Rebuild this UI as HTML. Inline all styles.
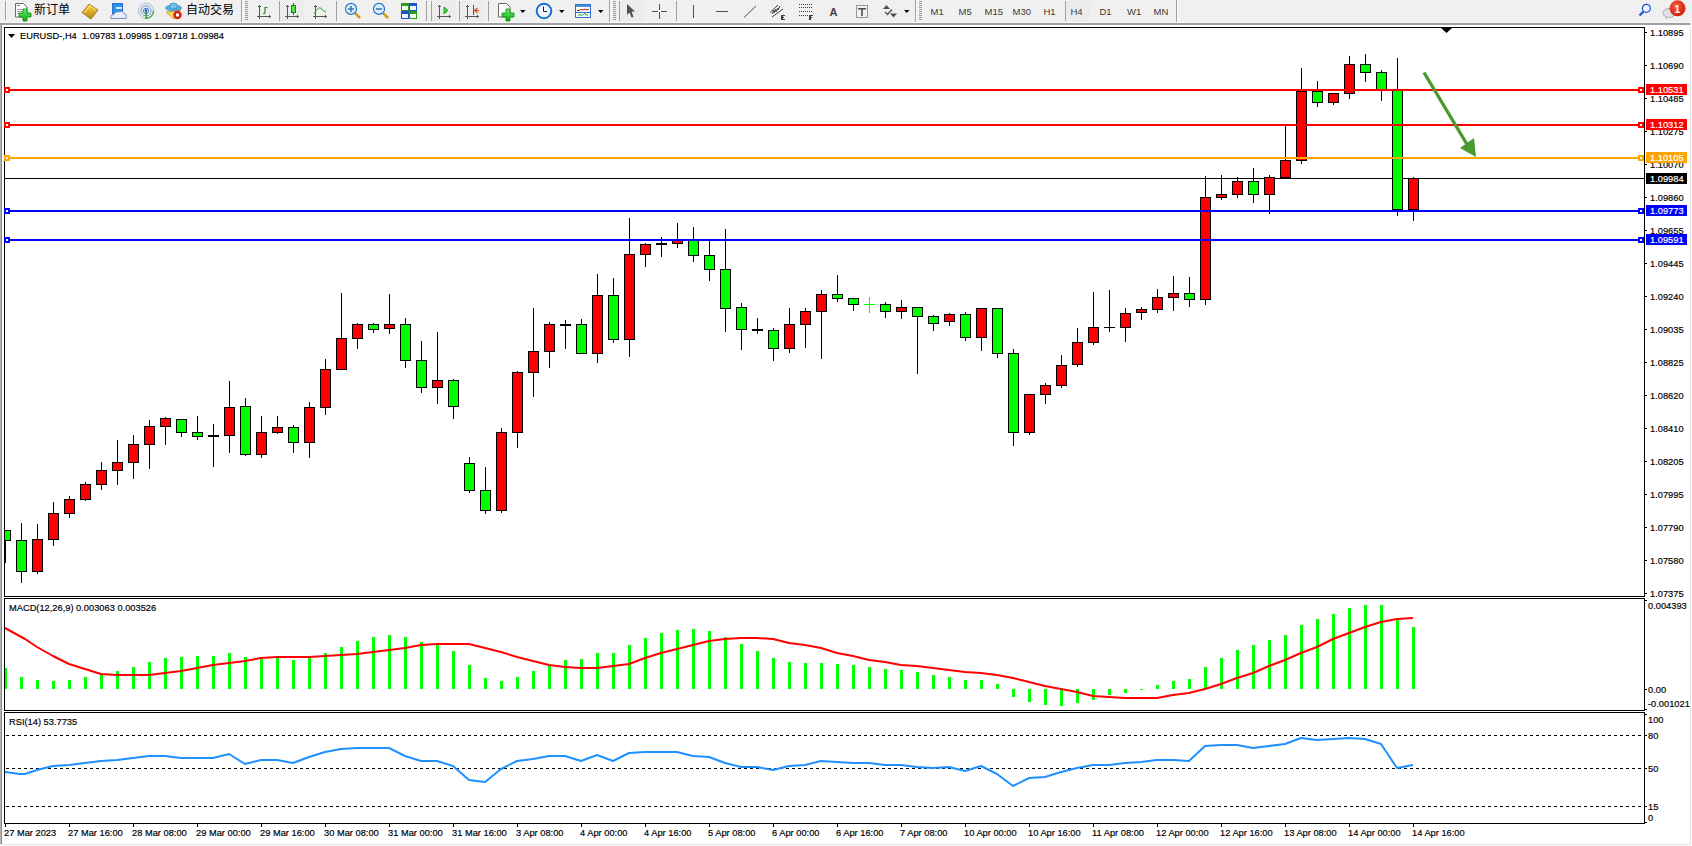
<!DOCTYPE html><html lang="zh-CN"><head><meta charset="utf-8"><style>html,body{margin:0;padding:0;width:1692px;height:846px;overflow:hidden;background:#fff;} svg{display:block} text{font-family:"Liberation Sans", sans-serif;}</style></head><body>
<svg width="1692" height="846" viewBox="0 0 1692 846">
<rect x="0" y="0" width="1692" height="23" fill="#f0f0f0"/>
<rect x="0" y="22" width="1692" height="1" fill="#f8f8f8"/>
<rect x="0" y="23" width="1690" height="2" fill="#a0a0a0"/>
<rect x="0" y="23" width="1" height="821" fill="#b4b4b4"/>
<rect x="1" y="23" width="1" height="821" fill="#8a8a8a"/>
<rect x="1690" y="23" width="1" height="822" fill="#e3e3e3"/>
<rect x="0" y="844" width="1691" height="1" fill="#e3e3e3"/>
<g id="toolbar">
<defs>
<pattern id="chk" width="2" height="2" patternUnits="userSpaceOnUse"><rect width="2" height="2" fill="#f4f4f4"/><rect width="1" height="1" fill="#e4e4e4"/><rect x="1" y="1" width="1" height="1" fill="#e4e4e4"/></pattern>
<linearGradient id="gplus" x1="0" y1="0" x2="0" y2="1"><stop offset="0" stop-color="#6cf36c"/><stop offset="1" stop-color="#0aa60a"/></linearGradient>
<linearGradient id="gold" x1="0" y1="0" x2="0" y2="1"><stop offset="0" stop-color="#f7d64a"/><stop offset="1" stop-color="#b8860b"/></linearGradient>
<radialGradient id="badge" cx="0.4" cy="0.35" r="0.7"><stop offset="0" stop-color="#f06040"/><stop offset="1" stop-color="#d01808"/></radialGradient>
</defs>
<g shape-rendering="crispEdges">
<!-- separators -->
<rect x="5" y="1" width="1" height="19" fill="#a0a0a0"/><rect x="6" y="1" width="1" height="19" fill="#fafafa"/>
<rect x="241" y="0" width="1" height="22" fill="#a0a0a0"/><rect x="242" y="0" width="1" height="22" fill="#fafafa"/>
<rect x="279" y="1" width="1" height="20" fill="#a0a0a0"/>
<rect x="336" y="1" width="1" height="20" fill="#a0a0a0"/>
<rect x="426" y="1" width="1" height="20" fill="#a0a0a0"/>
<rect x="431" y="1" width="1" height="20" fill="#a0a0a0"/>
<rect x="459" y="1" width="1" height="20" fill="#a0a0a0"/>
<rect x="488" y="1" width="1" height="20" fill="#a0a0a0"/>
<rect x="609" y="0" width="1" height="22" fill="#a0a0a0"/><rect x="610" y="0" width="1" height="22" fill="#fafafa"/>
<rect x="619" y="1" width="1" height="20" fill="#a0a0a0"/>
<rect x="676" y="1" width="1" height="20" fill="#a0a0a0"/>
<rect x="915" y="0" width="1" height="22" fill="#a0a0a0"/><rect x="916" y="0" width="1" height="22" fill="#fafafa"/>
<rect x="1065" y="1" width="1" height="20" fill="#a0a0a0"/>
<rect x="1176" y="0" width="1" height="22" fill="#a0a0a0"/><rect x="1177" y="0" width="1" height="22" fill="#fafafa"/>
<!-- pressed backgrounds -->
<rect x="280" y="1" width="24" height="20" fill="url(#chk)"/>
<rect x="432" y="1" width="24" height="20" fill="url(#chk)"/>
<rect x="460" y="1" width="24" height="20" fill="url(#chk)"/>
<rect x="620" y="1" width="24" height="20" fill="url(#chk)"/>
<rect x="1066" y="1" width="24" height="20" fill="url(#chk)"/>
</g>
<!-- grips -->
<g fill="#9a9a9a" shape-rendering="crispEdges">
<rect x="245" y="1" width="3" height="1"/><rect x="245" y="3" width="3" height="1"/><rect x="245" y="5" width="3" height="1"/><rect x="245" y="7" width="3" height="1"/><rect x="245" y="9" width="3" height="1"/><rect x="245" y="11" width="3" height="1"/><rect x="245" y="13" width="3" height="1"/><rect x="245" y="15" width="3" height="1"/><rect x="245" y="17" width="3" height="1"/><rect x="245" y="19" width="3" height="1"/>
<rect x="613" y="1" width="3" height="1"/><rect x="613" y="3" width="3" height="1"/><rect x="613" y="5" width="3" height="1"/><rect x="613" y="7" width="3" height="1"/><rect x="613" y="9" width="3" height="1"/><rect x="613" y="11" width="3" height="1"/><rect x="613" y="13" width="3" height="1"/><rect x="613" y="15" width="3" height="1"/><rect x="613" y="17" width="3" height="1"/><rect x="613" y="19" width="3" height="1"/>
<rect x="919" y="1" width="3" height="1"/><rect x="919" y="3" width="3" height="1"/><rect x="919" y="5" width="3" height="1"/><rect x="919" y="7" width="3" height="1"/><rect x="919" y="9" width="3" height="1"/><rect x="919" y="11" width="3" height="1"/><rect x="919" y="13" width="3" height="1"/><rect x="919" y="15" width="3" height="1"/><rect x="919" y="17" width="3" height="1"/><rect x="919" y="19" width="3" height="1"/>
</g>
<!-- new order icon -->
<path d="M15.5,3.5 h8 l3.5,3.5 v10 h-11.5 z" fill="#fff" stroke="#6a6a6a" stroke-width="1"/>
<rect x="17" y="5" width="3" height="1" fill="#888"/><rect x="17" y="9" width="6" height="1" fill="#999"/><rect x="17" y="11" width="6" height="1" fill="#999"/><rect x="17" y="13" width="4" height="1" fill="#999"/>
<path d="M23,9 h4 v4 h4 v4 h-4 v4 h-4 v-4 h-4 v-4 h4 z" fill="url(#gplus)" stroke="#0b8a0b" stroke-width="0.8"/>
<text x="34" y="14" font-size="12" fill="#000" lang="zh-CN">新订单</text>
<!-- yellow book -->
<path d="M82,12.5 L89,4 L98,10 L91,19 Z" fill="url(#gold)" stroke="#9a6a10" stroke-width="0.8"/>
<path d="M84,13 L90,6 L96,10" fill="none" stroke="#ffe680" stroke-width="1"/>
<!-- cloud icon -->
<rect x="112.5" y="3.5" width="10" height="10" fill="#2a90e8" stroke="#1060c0" stroke-width="0.8"/>
<rect x="116" y="7" width="6" height="2" fill="#cfe8ff"/>
<path d="M111,18.5 q-1.5,-3.5 3,-4 q1,-3.5 5,-2.5 q3,-2 5,1.5 q3,0 2,5 z" fill="#e8eef8" stroke="#6a86b0" stroke-width="0.9"/>
<!-- signal icon -->
<circle cx="146" cy="10.8" r="7.5" fill="none" stroke="#9fc0e0" stroke-width="1"/>
<circle cx="146" cy="10.8" r="5" fill="none" stroke="#6a9ad8" stroke-width="1"/>
<circle cx="146" cy="10.8" r="2.6" fill="none" stroke="#3a70d0" stroke-width="1"/>
<path d="M146,18.5 A7.7,7.7 0 0 0 153.5,11" fill="none" stroke="#5ab05a" stroke-width="1.6"/>
<rect x="145.5" y="10.5" width="1.2" height="8.5" fill="#109010"/>
<circle cx="146" cy="10.5" r="1.3" fill="#2050c0"/>
<!-- auto trading icon -->
<path d="M166,12 L181,10 L174,19 Z" fill="#f0d850" stroke="#c8a020" stroke-width="0.8"/>
<ellipse cx="173.5" cy="8" rx="8" ry="2.8" fill="#5ab0e0" stroke="#2a80b8" stroke-width="0.7"/>
<ellipse cx="173.5" cy="6" rx="4" ry="3" fill="#70c0ec" stroke="#2a80b8" stroke-width="0.7"/>
<circle cx="177.5" cy="15" r="4.2" fill="#d82010"/>
<rect x="176" y="13.5" width="3" height="3" fill="#fff"/>
<text x="186" y="14" font-size="12" fill="#000" lang="zh-CN">自动交易</text>
<!-- bar chart icon -->
<g fill="#555" shape-rendering="crispEdges">
<rect x="259" y="5" width="1" height="14"/><rect x="257" y="16" width="14" height="1"/>
<rect x="258" y="6" width="3" height="1"/><rect x="269" y="15" width="1" height="3"/>
</g>
<path d="M263,13.5 h2 M265,13.5 V7.5 h2.5" fill="none" stroke="#1a9a1a" stroke-width="1.2"/>
<!-- candle icon -->
<g fill="#555" shape-rendering="crispEdges">
<rect x="287" y="5" width="1" height="14"/><rect x="285" y="16" width="14" height="1"/>
<rect x="286" y="6" width="3" height="1"/><rect x="297" y="15" width="1" height="3"/>
</g>
<rect x="293" y="3" width="1" height="12" fill="#0a8a0a"/>
<rect x="291.5" y="5.5" width="4" height="7" fill="#50e050" stroke="#0a8a0a" stroke-width="1"/>
<!-- line chart icon -->
<g fill="#555" shape-rendering="crispEdges">
<rect x="315" y="5" width="1" height="14"/><rect x="313" y="16" width="14" height="1"/>
<rect x="314" y="6" width="3" height="1"/><rect x="325" y="15" width="1" height="3"/>
</g>
<path d="M314,13.5 Q319,6 321,8.3 T326,12.2" fill="none" stroke="#2a9a2a" stroke-width="1"/>
<!-- zoom in/out -->
<line x1="355" y1="13" x2="360" y2="18" stroke="#c8a020" stroke-width="2.5"/>
<circle cx="351" cy="8.9" r="5.5" fill="#d8f0fc" stroke="#2a70c8" stroke-width="1.2"/>
<rect x="348" y="8.2" width="6" height="1.6" fill="#3a80b0"/><rect x="350.2" y="6" width="1.6" height="6" fill="#3a80b0"/>
<line x1="383" y1="13" x2="388" y2="18" stroke="#c8a020" stroke-width="2.5"/>
<circle cx="379" cy="8.9" r="5.5" fill="#d8f0fc" stroke="#2a70c8" stroke-width="1.2"/>
<rect x="376" y="8.2" width="6" height="1.6" fill="#3a80b0"/>
<!-- tile windows -->
<g shape-rendering="crispEdges">
<rect x="401" y="3" width="8" height="8" fill="#2a9a1a"/><rect x="409" y="3" width="8" height="8" fill="#2050c8"/>
<rect x="401" y="11" width="8" height="8" fill="#2050c8"/><rect x="409" y="11" width="8" height="8" fill="#2a9a1a"/>
<rect x="402" y="6" width="6" height="4" fill="#f0f8f0"/><rect x="410" y="6" width="6" height="4" fill="#f0f4ff"/>
<rect x="402" y="14" width="6" height="4" fill="#f0f4ff"/><rect x="410" y="14" width="6" height="4" fill="#f0f8f0"/>
</g>
<!-- scroll icon -->
<g fill="#555" shape-rendering="crispEdges">
<rect x="439" y="5" width="1" height="14"/><rect x="437" y="16" width="14" height="1"/>
<rect x="438" y="6" width="3" height="1"/><rect x="449" y="15" width="1" height="3"/>
</g>
<path d="M444,7 L448,10.5 L444,14 Z" fill="#40d040" stroke="#0a9a0a" stroke-width="0.8"/>
<!-- shift icon -->
<g fill="#555" shape-rendering="crispEdges">
<rect x="467" y="5" width="1" height="14"/><rect x="465" y="16" width="14" height="1"/>
<rect x="466" y="6" width="3" height="1"/><rect x="477" y="15" width="1" height="3"/>
</g>
<rect x="473" y="5" width="1" height="10" fill="#1a6aa0"/>
<path d="M474,10.5 h5 M474.5,10.5 l3,-2.5 M474.5,10.5 l3,2.5" fill="none" stroke="#e05010" stroke-width="1.2"/>
<!-- indicators icon -->
<path d="M498.5,3.5 h8 l3.5,3.5 v10 h-11.5 z" fill="#fff" stroke="#6a6a6a" stroke-width="1"/>
<path d="M502,9 h4 v4 h4 v4 h-4 v4 h-4 v-4 h-4 v-4 h4 z" transform="translate(4,0)" fill="url(#gplus)" stroke="#0b8a0b" stroke-width="0.8"/>
<path d="M520,10 h5.5 l-2.75,3 z" fill="#000"/>
<!-- clock -->
<circle cx="544" cy="11" r="7.3" fill="#f4f8fc" stroke="#1a70d8" stroke-width="2"/>
<path d="M543.5,6.5 V11.5 H547" fill="none" stroke="#222" stroke-width="1"/>
<path d="M559,10 h5.5 l-2.75,3 z" fill="#000"/>
<!-- template -->
<rect x="575.5" y="4.5" width="15" height="13" fill="#fff" stroke="#2a70c8" stroke-width="1"/>
<rect x="576" y="5" width="14" height="2" fill="#4a90d8"/>
<rect x="576" y="12" width="14" height="1" fill="#2a70c8"/>
<path d="M577,10.5 l2,0 l2,-1 l2,0.5 l2,-1 l2,1 l2,-1" fill="none" stroke="#b02010" stroke-width="1"/>
<path d="M578,15.5 l2,-1 l2,1 l2,-2 l2,1 l2,1" fill="none" stroke="#20a020" stroke-width="1"/>
<path d="M598,10 h5.5 l-2.75,3 z" fill="#000"/>
<!-- cursor -->
<path d="M627,4 L635,11.5 L631.5,11.5 L633.5,17 L631.5,17.5 L629.5,12.5 L627,15 Z" fill="#505050"/>
<!-- crosshair -->
<g fill="#505050" shape-rendering="crispEdges">
<rect x="659" y="4" width="1" height="6"/><rect x="659" y="12" width="1" height="7"/>
<rect x="652" y="11" width="6" height="1"/><rect x="661" y="11" width="6" height="1"/>
<rect x="693" y="5" width="1" height="13"/>
<rect x="716" y="11" width="12" height="1"/>
</g>
<line x1="744" y1="17.5" x2="756" y2="6" stroke="#505050" stroke-width="1"/>
<!-- channel -->
<g stroke="#404040" stroke-width="1" fill="none">
<line x1="770" y1="12.5" x2="778" y2="5"/><line x1="772" y1="17" x2="783" y2="9"/>
<path d="M772,14 l2,-4 l0,3 l2,-4 l0,3 l2,-4 l0,2 l2,-4"/>
</g>
<g fill="#404040" shape-rendering="crispEdges"><rect x="781" y="15" width="2" height="5"/><rect x="781" y="15" width="4" height="1"/><rect x="781" y="17" width="3" height="1"/><rect x="781" y="19" width="4" height="1"/></g>
<!-- fibo -->
<g stroke="#404040" stroke-width="1" stroke-dasharray="1,1" shape-rendering="crispEdges">
<line x1="799" y1="4.5" x2="813" y2="4.5"/><line x1="799" y1="7.5" x2="813" y2="7.5"/><line x1="799" y1="11.5" x2="813" y2="11.5"/><line x1="799" y1="15.5" x2="808" y2="15.5"/>
</g>
<g fill="#404040" shape-rendering="crispEdges"><rect x="809" y="15" width="2" height="5"/><rect x="809" y="15" width="4" height="1"/><rect x="809" y="17" width="3" height="1"/></g>
<!-- A -->
<text x="829.5" y="16" font-size="11" font-weight="bold" fill="#404040">A</text>
<!-- T label -->
<rect x="856.5" y="5.5" width="11" height="12" fill="none" stroke="#404040" stroke-width="1" stroke-dasharray="1,1"/>
<rect x="858" y="8" width="8" height="1.5" fill="#505050"/><rect x="861.2" y="8" width="1.6" height="8" fill="#505050"/>
<!-- arrows icon -->
<path d="M883,9 L886.5,5 L890,9 Z" fill="#505050"/>
<path d="M885,12 L887.5,14.5 L892,9.5" fill="none" stroke="#505050" stroke-width="1.3"/>
<path d="M890,13.5 L897,13.5 L893.5,17.5 Z" fill="#505050"/>
<path d="M904,10 h5.5 l-2.75,3 z" fill="#000"/>
<!-- timeframes -->
<g font-size="9.5" fill="#3a3a3a">
<text x="930.5" y="15">M1</text>
<text x="958.5" y="15">M5</text>
<text x="984.5" y="15">M15</text>
<text x="1012.5" y="15">M30</text>
<text x="1043.5" y="15">H1</text>
<text x="1070.5" y="15">H4</text>
<text x="1099.5" y="15">D1</text>
<text x="1127" y="15">W1</text>
<text x="1153.5" y="15">MN</text>
</g>
<!-- search -->
<line x1="1639.5" y1="15.5" x2="1643.5" y2="11.5" stroke="#2050d0" stroke-width="2.2"/>
<circle cx="1646.4" cy="8.3" r="4" fill="#f4f6ff" stroke="#2050d0" stroke-width="1.2"/>
<!-- chat + badge -->
<ellipse cx="1669" cy="13" rx="6" ry="4.5" fill="#e0e0e8" stroke="#a0a0a0" stroke-width="0.8"/>
<path d="M1666,17 l-0.5,2.5 l3,-2" fill="#c0c0c8"/>
<circle cx="1677.5" cy="8.3" r="8" fill="url(#badge)"/>
<text x="1674.5" y="13" font-size="10" font-weight="bold" fill="#fff" font-family="Liberation Serif">1</text>
</g>

<g shape-rendering="crispEdges">
<rect x="4.5" y="27.5" width="1640" height="569" fill="none" stroke="#000" stroke-width="1"/>
<rect x="4.5" y="598.5" width="1640" height="112" fill="none" stroke="#000" stroke-width="1"/>
<rect x="4.5" y="712.5" width="1640" height="111" fill="none" stroke="#000" stroke-width="1"/>
</g>
<defs><clipPath id="cm"><rect x="5" y="28" width="1639" height="568"/></clipPath><clipPath id="cmacd"><rect x="5" y="599" width="1639" height="111"/></clipPath><clipPath id="crsi"><rect x="5" y="713" width="1639" height="110"/></clipPath></defs>
<g clip-path="url(#cm)" shape-rendering="crispEdges">
<rect x="5" y="178" width="1639" height="1" fill="#000"/>
<rect x="5" y="530" width="1" height="33" fill="#000"/>
<rect x="0.5" y="530.5" width="10" height="10" fill="#00ff00" stroke="#000" stroke-width="1"/>
<rect x="21" y="523" width="1" height="60" fill="#000"/>
<rect x="16.5" y="540.5" width="10" height="31" fill="#00ff00" stroke="#000" stroke-width="1"/>
<rect x="37" y="524" width="1" height="50" fill="#000"/>
<rect x="32.5" y="539.5" width="10" height="32" fill="#ff0000" stroke="#000" stroke-width="1"/>
<rect x="53" y="502" width="1" height="44" fill="#000"/>
<rect x="48.5" y="513.5" width="10" height="26" fill="#ff0000" stroke="#000" stroke-width="1"/>
<rect x="69" y="496" width="1" height="22" fill="#000"/>
<rect x="64.5" y="499.5" width="10" height="14" fill="#ff0000" stroke="#000" stroke-width="1"/>
<rect x="85" y="482" width="1" height="19" fill="#000"/>
<rect x="80.5" y="484.5" width="10" height="15" fill="#ff0000" stroke="#000" stroke-width="1"/>
<rect x="101" y="462" width="1" height="28" fill="#000"/>
<rect x="96.5" y="470.5" width="10" height="14" fill="#ff0000" stroke="#000" stroke-width="1"/>
<rect x="117" y="440" width="1" height="45" fill="#000"/>
<rect x="112.5" y="462.5" width="10" height="8" fill="#ff0000" stroke="#000" stroke-width="1"/>
<rect x="133" y="435" width="1" height="44" fill="#000"/>
<rect x="128.5" y="444.5" width="10" height="18" fill="#ff0000" stroke="#000" stroke-width="1"/>
<rect x="149" y="420" width="1" height="49" fill="#000"/>
<rect x="144.5" y="426.5" width="10" height="18" fill="#ff0000" stroke="#000" stroke-width="1"/>
<rect x="165" y="417" width="1" height="28" fill="#000"/>
<rect x="160.5" y="418.5" width="10" height="8" fill="#ff0000" stroke="#000" stroke-width="1"/>
<rect x="181" y="419" width="1" height="18" fill="#000"/>
<rect x="176.5" y="419.5" width="10" height="13" fill="#00ff00" stroke="#000" stroke-width="1"/>
<rect x="197" y="416" width="1" height="24" fill="#000"/>
<rect x="192.5" y="432.5" width="10" height="4" fill="#00ff00" stroke="#000" stroke-width="1"/>
<rect x="213" y="424" width="1" height="43" fill="#000"/>
<rect x="208" y="435" width="11" height="2" fill="#000"/>
<rect x="229" y="381" width="1" height="72" fill="#000"/>
<rect x="224.5" y="407.5" width="10" height="28" fill="#ff0000" stroke="#000" stroke-width="1"/>
<rect x="245" y="398" width="1" height="58" fill="#000"/>
<rect x="240.5" y="406.5" width="10" height="48" fill="#00ff00" stroke="#000" stroke-width="1"/>
<rect x="261" y="416" width="1" height="42" fill="#000"/>
<rect x="256.5" y="432.5" width="10" height="22" fill="#ff0000" stroke="#000" stroke-width="1"/>
<rect x="277" y="416" width="1" height="18" fill="#000"/>
<rect x="272.5" y="427.5" width="10" height="5" fill="#ff0000" stroke="#000" stroke-width="1"/>
<rect x="293" y="425" width="1" height="28" fill="#000"/>
<rect x="288.5" y="427.5" width="10" height="15" fill="#00ff00" stroke="#000" stroke-width="1"/>
<rect x="309" y="402" width="1" height="56" fill="#000"/>
<rect x="304.5" y="407.5" width="10" height="35" fill="#ff0000" stroke="#000" stroke-width="1"/>
<rect x="325" y="359" width="1" height="56" fill="#000"/>
<rect x="320.5" y="369.5" width="10" height="38" fill="#ff0000" stroke="#000" stroke-width="1"/>
<rect x="341" y="293" width="1" height="77" fill="#000"/>
<rect x="336.5" y="338.5" width="10" height="31" fill="#ff0000" stroke="#000" stroke-width="1"/>
<rect x="357" y="323" width="1" height="26" fill="#000"/>
<rect x="352.5" y="324.5" width="10" height="14" fill="#ff0000" stroke="#000" stroke-width="1"/>
<rect x="373" y="323" width="1" height="10" fill="#000"/>
<rect x="368.5" y="324.5" width="10" height="5" fill="#00ff00" stroke="#000" stroke-width="1"/>
<rect x="389" y="294" width="1" height="40" fill="#000"/>
<rect x="384.5" y="324.5" width="10" height="4" fill="#ff0000" stroke="#000" stroke-width="1"/>
<rect x="405" y="318" width="1" height="50" fill="#000"/>
<rect x="400.5" y="324.5" width="10" height="36" fill="#00ff00" stroke="#000" stroke-width="1"/>
<rect x="421" y="341" width="1" height="52" fill="#000"/>
<rect x="416.5" y="360.5" width="10" height="27" fill="#00ff00" stroke="#000" stroke-width="1"/>
<rect x="437" y="332" width="1" height="72" fill="#000"/>
<rect x="432.5" y="380.5" width="10" height="7" fill="#ff0000" stroke="#000" stroke-width="1"/>
<rect x="453" y="379" width="1" height="40" fill="#000"/>
<rect x="448.5" y="380.5" width="10" height="26" fill="#00ff00" stroke="#000" stroke-width="1"/>
<rect x="469" y="457" width="1" height="36" fill="#000"/>
<rect x="464.5" y="463.5" width="10" height="27" fill="#00ff00" stroke="#000" stroke-width="1"/>
<rect x="485" y="467" width="1" height="47" fill="#000"/>
<rect x="480.5" y="490.5" width="10" height="20" fill="#00ff00" stroke="#000" stroke-width="1"/>
<rect x="501" y="428" width="1" height="85" fill="#000"/>
<rect x="496.5" y="432.5" width="10" height="78" fill="#ff0000" stroke="#000" stroke-width="1"/>
<rect x="517" y="371" width="1" height="77" fill="#000"/>
<rect x="512.5" y="372.5" width="10" height="60" fill="#ff0000" stroke="#000" stroke-width="1"/>
<rect x="533" y="308" width="1" height="89" fill="#000"/>
<rect x="528.5" y="351.5" width="10" height="21" fill="#ff0000" stroke="#000" stroke-width="1"/>
<rect x="549" y="322" width="1" height="46" fill="#000"/>
<rect x="544.5" y="324.5" width="10" height="27" fill="#ff0000" stroke="#000" stroke-width="1"/>
<rect x="565" y="320" width="1" height="29" fill="#000"/>
<rect x="560" y="324" width="11" height="2" fill="#000"/>
<rect x="581" y="319" width="1" height="35" fill="#000"/>
<rect x="576.5" y="324.5" width="10" height="29" fill="#00ff00" stroke="#000" stroke-width="1"/>
<rect x="597" y="274" width="1" height="89" fill="#000"/>
<rect x="592.5" y="295.5" width="10" height="58" fill="#ff0000" stroke="#000" stroke-width="1"/>
<rect x="613" y="278" width="1" height="65" fill="#000"/>
<rect x="608.5" y="295.5" width="10" height="44" fill="#00ff00" stroke="#000" stroke-width="1"/>
<rect x="629" y="218" width="1" height="139" fill="#000"/>
<rect x="624.5" y="254.5" width="10" height="85" fill="#ff0000" stroke="#000" stroke-width="1"/>
<rect x="645" y="243" width="1" height="24" fill="#000"/>
<rect x="640.5" y="244.5" width="10" height="10" fill="#ff0000" stroke="#000" stroke-width="1"/>
<rect x="661" y="237" width="1" height="20" fill="#000"/>
<rect x="656" y="243" width="11" height="2" fill="#000"/>
<rect x="677" y="223" width="1" height="25" fill="#000"/>
<rect x="672.5" y="240.5" width="10" height="3" fill="#ff0000" stroke="#000" stroke-width="1"/>
<rect x="693" y="227" width="1" height="35" fill="#000"/>
<rect x="688.5" y="240.5" width="10" height="15" fill="#00ff00" stroke="#000" stroke-width="1"/>
<rect x="709" y="240" width="1" height="41" fill="#000"/>
<rect x="704.5" y="255.5" width="10" height="14" fill="#00ff00" stroke="#000" stroke-width="1"/>
<rect x="725" y="229" width="1" height="103" fill="#000"/>
<rect x="720.5" y="269.5" width="10" height="39" fill="#00ff00" stroke="#000" stroke-width="1"/>
<rect x="741" y="303" width="1" height="47" fill="#000"/>
<rect x="736.5" y="307.5" width="10" height="22" fill="#00ff00" stroke="#000" stroke-width="1"/>
<rect x="757" y="318" width="1" height="16" fill="#000"/>
<rect x="752" y="329" width="11" height="2" fill="#000"/>
<rect x="773" y="328" width="1" height="33" fill="#000"/>
<rect x="768.5" y="330.5" width="10" height="18" fill="#00ff00" stroke="#000" stroke-width="1"/>
<rect x="789" y="308" width="1" height="45" fill="#000"/>
<rect x="784.5" y="324.5" width="10" height="24" fill="#ff0000" stroke="#000" stroke-width="1"/>
<rect x="805" y="308" width="1" height="40" fill="#000"/>
<rect x="800.5" y="311.5" width="10" height="13" fill="#ff0000" stroke="#000" stroke-width="1"/>
<rect x="821" y="290" width="1" height="69" fill="#000"/>
<rect x="816.5" y="294.5" width="10" height="17" fill="#ff0000" stroke="#000" stroke-width="1"/>
<rect x="837" y="275" width="1" height="27" fill="#000"/>
<rect x="832.5" y="294.5" width="10" height="4" fill="#00ff00" stroke="#000" stroke-width="1"/>
<rect x="853" y="298" width="1" height="13" fill="#000"/>
<rect x="848.5" y="298.5" width="10" height="6" fill="#00ff00" stroke="#000" stroke-width="1"/>
<rect x="869" y="297" width="1" height="16" fill="#00ff00"/>
<rect x="864" y="304" width="11" height="1" fill="#00ff00"/>
<rect x="885" y="302" width="1" height="16" fill="#000"/>
<rect x="880.5" y="304.5" width="10" height="7" fill="#00ff00" stroke="#000" stroke-width="1"/>
<rect x="901" y="300" width="1" height="19" fill="#000"/>
<rect x="896.5" y="307.5" width="10" height="4" fill="#ff0000" stroke="#000" stroke-width="1"/>
<rect x="917" y="307" width="1" height="67" fill="#000"/>
<rect x="912.5" y="307.5" width="10" height="9" fill="#00ff00" stroke="#000" stroke-width="1"/>
<rect x="933" y="315" width="1" height="16" fill="#000"/>
<rect x="928.5" y="316.5" width="10" height="7" fill="#00ff00" stroke="#000" stroke-width="1"/>
<rect x="949" y="313" width="1" height="13" fill="#000"/>
<rect x="944.5" y="314.5" width="10" height="7" fill="#ff0000" stroke="#000" stroke-width="1"/>
<rect x="965" y="312" width="1" height="29" fill="#000"/>
<rect x="960.5" y="314.5" width="10" height="23" fill="#00ff00" stroke="#000" stroke-width="1"/>
<rect x="981" y="308" width="1" height="43" fill="#000"/>
<rect x="976.5" y="308.5" width="10" height="29" fill="#ff0000" stroke="#000" stroke-width="1"/>
<rect x="997" y="308" width="1" height="50" fill="#000"/>
<rect x="992.5" y="308.5" width="10" height="45" fill="#00ff00" stroke="#000" stroke-width="1"/>
<rect x="1013" y="349" width="1" height="97" fill="#000"/>
<rect x="1008.5" y="353.5" width="10" height="79" fill="#00ff00" stroke="#000" stroke-width="1"/>
<rect x="1029" y="394" width="1" height="41" fill="#000"/>
<rect x="1024.5" y="394.5" width="10" height="38" fill="#ff0000" stroke="#000" stroke-width="1"/>
<rect x="1045" y="383" width="1" height="21" fill="#000"/>
<rect x="1040.5" y="385.5" width="10" height="9" fill="#ff0000" stroke="#000" stroke-width="1"/>
<rect x="1061" y="355" width="1" height="33" fill="#000"/>
<rect x="1056.5" y="365.5" width="10" height="20" fill="#ff0000" stroke="#000" stroke-width="1"/>
<rect x="1077" y="328" width="1" height="39" fill="#000"/>
<rect x="1072.5" y="342.5" width="10" height="22" fill="#ff0000" stroke="#000" stroke-width="1"/>
<rect x="1093" y="292" width="1" height="53" fill="#000"/>
<rect x="1088.5" y="327.5" width="10" height="15" fill="#ff0000" stroke="#000" stroke-width="1"/>
<rect x="1109" y="290" width="1" height="42" fill="#000"/>
<rect x="1104" y="327" width="11" height="1" fill="#000"/>
<rect x="1125" y="308" width="1" height="34" fill="#000"/>
<rect x="1120.5" y="313.5" width="10" height="14" fill="#ff0000" stroke="#000" stroke-width="1"/>
<rect x="1141" y="307" width="1" height="13" fill="#000"/>
<rect x="1136.5" y="309.5" width="10" height="3" fill="#ff0000" stroke="#000" stroke-width="1"/>
<rect x="1157" y="289" width="1" height="24" fill="#000"/>
<rect x="1152.5" y="297.5" width="10" height="12" fill="#ff0000" stroke="#000" stroke-width="1"/>
<rect x="1173" y="276" width="1" height="35" fill="#000"/>
<rect x="1168.5" y="293.5" width="10" height="4" fill="#ff0000" stroke="#000" stroke-width="1"/>
<rect x="1189" y="277" width="1" height="30" fill="#000"/>
<rect x="1184.5" y="293.5" width="10" height="6" fill="#00ff00" stroke="#000" stroke-width="1"/>
<rect x="1205" y="176" width="1" height="129" fill="#000"/>
<rect x="1200.5" y="197.5" width="10" height="102" fill="#ff0000" stroke="#000" stroke-width="1"/>
<rect x="1221" y="175" width="1" height="25" fill="#000"/>
<rect x="1216.5" y="194.5" width="10" height="3" fill="#ff0000" stroke="#000" stroke-width="1"/>
<rect x="1237" y="177" width="1" height="21" fill="#000"/>
<rect x="1232.5" y="181.5" width="10" height="13" fill="#ff0000" stroke="#000" stroke-width="1"/>
<rect x="1253" y="168" width="1" height="35" fill="#000"/>
<rect x="1248.5" y="181.5" width="10" height="13" fill="#00ff00" stroke="#000" stroke-width="1"/>
<rect x="1269" y="175" width="1" height="39" fill="#000"/>
<rect x="1264.5" y="177.5" width="10" height="17" fill="#ff0000" stroke="#000" stroke-width="1"/>
<rect x="1285" y="125" width="1" height="53" fill="#000"/>
<rect x="1280.5" y="160.5" width="10" height="17" fill="#ff0000" stroke="#000" stroke-width="1"/>
<rect x="1301" y="68" width="1" height="96" fill="#000"/>
<rect x="1296.5" y="91.5" width="10" height="69" fill="#ff0000" stroke="#000" stroke-width="1"/>
<rect x="1317" y="81" width="1" height="26" fill="#000"/>
<rect x="1312.5" y="91.5" width="10" height="11" fill="#00ff00" stroke="#000" stroke-width="1"/>
<rect x="1333" y="93" width="1" height="12" fill="#000"/>
<rect x="1328.5" y="93.5" width="10" height="9" fill="#ff0000" stroke="#000" stroke-width="1"/>
<rect x="1349" y="56" width="1" height="43" fill="#000"/>
<rect x="1344.5" y="64.5" width="10" height="29" fill="#ff0000" stroke="#000" stroke-width="1"/>
<rect x="1365" y="54" width="1" height="28" fill="#000"/>
<rect x="1360.5" y="64.5" width="10" height="8" fill="#00ff00" stroke="#000" stroke-width="1"/>
<rect x="1381" y="70" width="1" height="31" fill="#000"/>
<rect x="1376.5" y="72.5" width="10" height="17" fill="#00ff00" stroke="#000" stroke-width="1"/>
<rect x="1397" y="58" width="1" height="158" fill="#000"/>
<rect x="1392.5" y="90.5" width="10" height="119" fill="#00ff00" stroke="#000" stroke-width="1"/>
<rect x="1413" y="177" width="1" height="44" fill="#000"/>
<rect x="1408.5" y="178.5" width="10" height="31" fill="#ff0000" stroke="#000" stroke-width="1"/>
<rect x="5" y="89" width="1639" height="2" fill="#ff0000"/>
<rect x="5" y="124" width="1639" height="2" fill="#ff0000"/>
<rect x="5" y="157" width="1639" height="2" fill="#ffa500"/>
<rect x="5" y="210" width="1639" height="2" fill="#0000ff"/>
<rect x="5" y="239" width="1639" height="2" fill="#0000ff"/>
</g>
<g shape-rendering="crispEdges">
<rect x="4" y="87" width="6" height="6" fill="#ff0000"/>
<rect x="6" y="89" width="2" height="2" fill="#fff"/>
<rect x="1638" y="87" width="6" height="6" fill="#ff0000"/>
<rect x="1640" y="89" width="2" height="2" fill="#fff"/>
<rect x="4" y="122" width="6" height="6" fill="#ff0000"/>
<rect x="6" y="124" width="2" height="2" fill="#fff"/>
<rect x="1638" y="122" width="6" height="6" fill="#ff0000"/>
<rect x="1640" y="124" width="2" height="2" fill="#fff"/>
<rect x="4" y="155" width="6" height="6" fill="#ffa500"/>
<rect x="6" y="157" width="2" height="2" fill="#fff"/>
<rect x="1638" y="155" width="6" height="6" fill="#ffa500"/>
<rect x="1640" y="157" width="2" height="2" fill="#fff"/>
<rect x="4" y="208" width="6" height="6" fill="#0000ff"/>
<rect x="6" y="210" width="2" height="2" fill="#fff"/>
<rect x="1638" y="208" width="6" height="6" fill="#0000ff"/>
<rect x="1640" y="210" width="2" height="2" fill="#fff"/>
<rect x="4" y="237" width="6" height="6" fill="#0000ff"/>
<rect x="6" y="239" width="2" height="2" fill="#fff"/>
<rect x="1638" y="237" width="6" height="6" fill="#0000ff"/>
<rect x="1640" y="239" width="2" height="2" fill="#fff"/>
</g>
<g fill="#4a9a2e" stroke="none">
<line x1="1424" y1="72.5" x2="1468" y2="146" stroke="#4a9a2e" stroke-width="3.4"/>
<polygon points="1476,157 1460,148 1474,138"/>
</g>
<polygon points="1441,28 1452,28 1446.5,33" fill="#000"/>
<text transform="translate(20,39) scale(0.93,0.96)" x="0" y="0" font-size="10" fill="#000" stroke="#000" stroke-width="0.18" style="white-space:pre" >EURUSD-,H4  1.09783 1.09985 1.09718 1.09984</text>
<polygon points="8,34 15,34 11.5,38" fill="#000"/>
<g shape-rendering="crispEdges">
<rect x="1645" y="32" width="2" height="1" fill="#000"/>
<rect x="1645" y="65" width="2" height="1" fill="#000"/>
<rect x="1645" y="98" width="2" height="1" fill="#000"/>
<rect x="1645" y="131" width="2" height="1" fill="#000"/>
<rect x="1645" y="164" width="2" height="1" fill="#000"/>
<rect x="1645" y="197" width="2" height="1" fill="#000"/>
<rect x="1645" y="230" width="2" height="1" fill="#000"/>
<rect x="1645" y="263" width="2" height="1" fill="#000"/>
<rect x="1645" y="296" width="2" height="1" fill="#000"/>
<rect x="1645" y="329" width="2" height="1" fill="#000"/>
<rect x="1645" y="362" width="2" height="1" fill="#000"/>
<rect x="1645" y="395" width="2" height="1" fill="#000"/>
<rect x="1645" y="428" width="2" height="1" fill="#000"/>
<rect x="1645" y="461" width="2" height="1" fill="#000"/>
<rect x="1645" y="494" width="2" height="1" fill="#000"/>
<rect x="1645" y="527" width="2" height="1" fill="#000"/>
<rect x="1645" y="560" width="2" height="1" fill="#000"/>
<rect x="1645" y="593" width="2" height="1" fill="#000"/>
</g>
<text transform="translate(1650,36) scale(0.93,0.96)" x="0" y="0" font-size="10" fill="#000" stroke="#000" stroke-width="0.18" style="white-space:pre" >1.10895</text>
<text transform="translate(1650,69) scale(0.93,0.96)" x="0" y="0" font-size="10" fill="#000" stroke="#000" stroke-width="0.18" style="white-space:pre" >1.10690</text>
<text transform="translate(1650,102) scale(0.93,0.96)" x="0" y="0" font-size="10" fill="#000" stroke="#000" stroke-width="0.18" style="white-space:pre" >1.10485</text>
<text transform="translate(1650,135) scale(0.93,0.96)" x="0" y="0" font-size="10" fill="#000" stroke="#000" stroke-width="0.18" style="white-space:pre" >1.10275</text>
<text transform="translate(1650,168) scale(0.93,0.96)" x="0" y="0" font-size="10" fill="#000" stroke="#000" stroke-width="0.18" style="white-space:pre" >1.10070</text>
<text transform="translate(1650,201) scale(0.93,0.96)" x="0" y="0" font-size="10" fill="#000" stroke="#000" stroke-width="0.18" style="white-space:pre" >1.09860</text>
<text transform="translate(1650,234) scale(0.93,0.96)" x="0" y="0" font-size="10" fill="#000" stroke="#000" stroke-width="0.18" style="white-space:pre" >1.09655</text>
<text transform="translate(1650,267) scale(0.93,0.96)" x="0" y="0" font-size="10" fill="#000" stroke="#000" stroke-width="0.18" style="white-space:pre" >1.09445</text>
<text transform="translate(1650,300) scale(0.93,0.96)" x="0" y="0" font-size="10" fill="#000" stroke="#000" stroke-width="0.18" style="white-space:pre" >1.09240</text>
<text transform="translate(1650,333) scale(0.93,0.96)" x="0" y="0" font-size="10" fill="#000" stroke="#000" stroke-width="0.18" style="white-space:pre" >1.09035</text>
<text transform="translate(1650,366) scale(0.93,0.96)" x="0" y="0" font-size="10" fill="#000" stroke="#000" stroke-width="0.18" style="white-space:pre" >1.08825</text>
<text transform="translate(1650,399) scale(0.93,0.96)" x="0" y="0" font-size="10" fill="#000" stroke="#000" stroke-width="0.18" style="white-space:pre" >1.08620</text>
<text transform="translate(1650,432) scale(0.93,0.96)" x="0" y="0" font-size="10" fill="#000" stroke="#000" stroke-width="0.18" style="white-space:pre" >1.08410</text>
<text transform="translate(1650,465) scale(0.93,0.96)" x="0" y="0" font-size="10" fill="#000" stroke="#000" stroke-width="0.18" style="white-space:pre" >1.08205</text>
<text transform="translate(1650,498) scale(0.93,0.96)" x="0" y="0" font-size="10" fill="#000" stroke="#000" stroke-width="0.18" style="white-space:pre" >1.07995</text>
<text transform="translate(1650,531) scale(0.93,0.96)" x="0" y="0" font-size="10" fill="#000" stroke="#000" stroke-width="0.18" style="white-space:pre" >1.07790</text>
<text transform="translate(1650,564) scale(0.93,0.96)" x="0" y="0" font-size="10" fill="#000" stroke="#000" stroke-width="0.18" style="white-space:pre" >1.07580</text>
<text transform="translate(1650,597) scale(0.93,0.96)" x="0" y="0" font-size="10" fill="#000" stroke="#000" stroke-width="0.18" style="white-space:pre" >1.07375</text>
<rect x="1646" y="84" width="41" height="11" fill="#ff0000" shape-rendering="crispEdges"/>
<text transform="translate(1650,93) scale(0.93,0.96)" x="0" y="0" font-size="10" fill="#fff" stroke="#fff" stroke-width="0.18" style="white-space:pre" >1.10531</text>
<rect x="1646" y="119" width="41" height="11" fill="#ff0000" shape-rendering="crispEdges"/>
<text transform="translate(1650,128) scale(0.93,0.96)" x="0" y="0" font-size="10" fill="#fff" stroke="#fff" stroke-width="0.18" style="white-space:pre" >1.10312</text>
<rect x="1646" y="152" width="41" height="11" fill="#ffa500" shape-rendering="crispEdges"/>
<text transform="translate(1650,161) scale(0.93,0.96)" x="0" y="0" font-size="10" fill="#fff" stroke="#fff" stroke-width="0.18" style="white-space:pre" >1.10105</text>
<rect x="1646" y="173" width="41" height="11" fill="#000000" shape-rendering="crispEdges"/>
<text transform="translate(1650,182) scale(0.93,0.96)" x="0" y="0" font-size="10" fill="#fff" stroke="#fff" stroke-width="0.18" style="white-space:pre" >1.09984</text>
<rect x="1646" y="205" width="41" height="11" fill="#0000ff" shape-rendering="crispEdges"/>
<text transform="translate(1650,214) scale(0.93,0.96)" x="0" y="0" font-size="10" fill="#fff" stroke="#fff" stroke-width="0.18" style="white-space:pre" >1.09773</text>
<rect x="1646" y="234" width="41" height="11" fill="#0000ff" shape-rendering="crispEdges"/>
<text transform="translate(1650,243) scale(0.93,0.96)" x="0" y="0" font-size="10" fill="#fff" stroke="#fff" stroke-width="0.18" style="white-space:pre" >1.09591</text>
<text transform="translate(9,611) scale(0.93,0.96)" x="0" y="0" font-size="10" fill="#000" stroke="#000" stroke-width="0.18" style="white-space:pre" >MACD(12,26,9) 0.003063 0.003526</text>
<g clip-path="url(#cmacd)" shape-rendering="crispEdges">
<rect x="4" y="668" width="3" height="21" fill="#00ff00"/>
<rect x="20" y="677" width="3" height="12" fill="#00ff00"/>
<rect x="36" y="680" width="3" height="9" fill="#00ff00"/>
<rect x="52" y="681" width="3" height="8" fill="#00ff00"/>
<rect x="68" y="680" width="3" height="9" fill="#00ff00"/>
<rect x="84" y="677" width="3" height="12" fill="#00ff00"/>
<rect x="100" y="674" width="3" height="15" fill="#00ff00"/>
<rect x="116" y="671" width="3" height="18" fill="#00ff00"/>
<rect x="132" y="667" width="3" height="22" fill="#00ff00"/>
<rect x="148" y="662" width="3" height="27" fill="#00ff00"/>
<rect x="164" y="658" width="3" height="31" fill="#00ff00"/>
<rect x="180" y="657" width="3" height="32" fill="#00ff00"/>
<rect x="196" y="656" width="3" height="33" fill="#00ff00"/>
<rect x="212" y="656" width="3" height="33" fill="#00ff00"/>
<rect x="228" y="653" width="3" height="36" fill="#00ff00"/>
<rect x="244" y="657" width="3" height="32" fill="#00ff00"/>
<rect x="260" y="657" width="3" height="32" fill="#00ff00"/>
<rect x="276" y="658" width="3" height="31" fill="#00ff00"/>
<rect x="292" y="660" width="3" height="29" fill="#00ff00"/>
<rect x="308" y="658" width="3" height="31" fill="#00ff00"/>
<rect x="324" y="653" width="3" height="36" fill="#00ff00"/>
<rect x="340" y="647" width="3" height="42" fill="#00ff00"/>
<rect x="356" y="641" width="3" height="48" fill="#00ff00"/>
<rect x="372" y="637" width="3" height="52" fill="#00ff00"/>
<rect x="388" y="635" width="3" height="54" fill="#00ff00"/>
<rect x="404" y="637" width="3" height="52" fill="#00ff00"/>
<rect x="420" y="642" width="3" height="47" fill="#00ff00"/>
<rect x="436" y="644" width="3" height="45" fill="#00ff00"/>
<rect x="452" y="651" width="3" height="38" fill="#00ff00"/>
<rect x="468" y="665" width="3" height="24" fill="#00ff00"/>
<rect x="484" y="678" width="3" height="11" fill="#00ff00"/>
<rect x="500" y="681" width="3" height="8" fill="#00ff00"/>
<rect x="516" y="677" width="3" height="12" fill="#00ff00"/>
<rect x="532" y="671" width="3" height="18" fill="#00ff00"/>
<rect x="548" y="665" width="3" height="24" fill="#00ff00"/>
<rect x="564" y="660" width="3" height="29" fill="#00ff00"/>
<rect x="580" y="659" width="3" height="30" fill="#00ff00"/>
<rect x="596" y="653" width="3" height="36" fill="#00ff00"/>
<rect x="612" y="653" width="3" height="36" fill="#00ff00"/>
<rect x="628" y="645" width="3" height="44" fill="#00ff00"/>
<rect x="644" y="638" width="3" height="51" fill="#00ff00"/>
<rect x="660" y="633" width="3" height="56" fill="#00ff00"/>
<rect x="676" y="630" width="3" height="59" fill="#00ff00"/>
<rect x="692" y="629" width="3" height="60" fill="#00ff00"/>
<rect x="708" y="631" width="3" height="58" fill="#00ff00"/>
<rect x="724" y="637" width="3" height="52" fill="#00ff00"/>
<rect x="740" y="644" width="3" height="45" fill="#00ff00"/>
<rect x="756" y="651" width="3" height="38" fill="#00ff00"/>
<rect x="772" y="658" width="3" height="31" fill="#00ff00"/>
<rect x="788" y="662" width="3" height="27" fill="#00ff00"/>
<rect x="804" y="663" width="3" height="26" fill="#00ff00"/>
<rect x="820" y="663" width="3" height="26" fill="#00ff00"/>
<rect x="836" y="664" width="3" height="25" fill="#00ff00"/>
<rect x="852" y="665" width="3" height="24" fill="#00ff00"/>
<rect x="868" y="667" width="3" height="22" fill="#00ff00"/>
<rect x="884" y="669" width="3" height="20" fill="#00ff00"/>
<rect x="900" y="670" width="3" height="19" fill="#00ff00"/>
<rect x="916" y="672" width="3" height="17" fill="#00ff00"/>
<rect x="932" y="675" width="3" height="14" fill="#00ff00"/>
<rect x="948" y="677" width="3" height="12" fill="#00ff00"/>
<rect x="964" y="680" width="3" height="9" fill="#00ff00"/>
<rect x="980" y="680" width="3" height="9" fill="#00ff00"/>
<rect x="996" y="684" width="3" height="5" fill="#00ff00"/>
<rect x="1012" y="689" width="3" height="8" fill="#00ff00"/>
<rect x="1028" y="689" width="3" height="13" fill="#00ff00"/>
<rect x="1044" y="689" width="3" height="16" fill="#00ff00"/>
<rect x="1060" y="689" width="3" height="17" fill="#00ff00"/>
<rect x="1076" y="689" width="3" height="14" fill="#00ff00"/>
<rect x="1092" y="689" width="3" height="11" fill="#00ff00"/>
<rect x="1108" y="689" width="3" height="6" fill="#00ff00"/>
<rect x="1124" y="689" width="3" height="4" fill="#00ff00"/>
<rect x="1140" y="689" width="3" height="1" fill="#00ff00"/>
<rect x="1156" y="685" width="3" height="4" fill="#00ff00"/>
<rect x="1172" y="681" width="3" height="8" fill="#00ff00"/>
<rect x="1188" y="679" width="3" height="10" fill="#00ff00"/>
<rect x="1204" y="667" width="3" height="22" fill="#00ff00"/>
<rect x="1220" y="658" width="3" height="31" fill="#00ff00"/>
<rect x="1236" y="650" width="3" height="39" fill="#00ff00"/>
<rect x="1252" y="645" width="3" height="44" fill="#00ff00"/>
<rect x="1268" y="640" width="3" height="49" fill="#00ff00"/>
<rect x="1284" y="635" width="3" height="54" fill="#00ff00"/>
<rect x="1300" y="625" width="3" height="64" fill="#00ff00"/>
<rect x="1316" y="619" width="3" height="70" fill="#00ff00"/>
<rect x="1332" y="614" width="3" height="75" fill="#00ff00"/>
<rect x="1348" y="608" width="3" height="81" fill="#00ff00"/>
<rect x="1364" y="605" width="3" height="84" fill="#00ff00"/>
<rect x="1380" y="605" width="3" height="84" fill="#00ff00"/>
<rect x="1396" y="618" width="3" height="71" fill="#00ff00"/>
<rect x="1412" y="627" width="3" height="62" fill="#00ff00"/>
</g>
<g clip-path="url(#cmacd)"><polyline points="5,628 25,639 37,647 53,656 69,664 85,669 101,674 117,675 133,675 149,675 165,673 181,671 197,668 213,665 229,663 245,661 261,658 277,657 293,657 309,657 325,656 341,655 357,654 373,652 389,650 405,648 421,645 437,644 469,644 485,648 501,652 517,657 533,661 549,665 565,667 581,668 597,668 613,666 629,664 645,658 661,653 677,649 693,645 709,641 725,639 741,638 757,638 773,639 789,643 805,645 821,648 837,653 853,656 869,660 885,662 901,665 917,666 933,668 949,670 965,672 981,673 997,675 1013,678 1029,682 1045,686 1061,689 1077,692 1093,696 1109,697 1125,698 1141,698 1157,698 1173,695 1189,693 1205,689 1221,684 1237,678 1253,673 1269,666 1285,660 1301,653 1317,647 1333,639 1349,633 1365,627 1381,622 1397,619 1413,618" fill="none" stroke="#ff0000" stroke-width="2" stroke-linejoin="round"/></g>
<g shape-rendering="crispEdges"><rect x="1645" y="600" width="2" height="1" fill="#000"/><rect x="1645" y="689" width="2" height="1" fill="#000"/><rect x="1645" y="709" width="2" height="1" fill="#000"/></g>
<text transform="translate(1648,609) scale(0.93,0.96)" x="0" y="0" font-size="10" fill="#000" stroke="#000" stroke-width="0.18" style="white-space:pre" >0.004393</text>
<text transform="translate(1648,693) scale(0.93,0.96)" x="0" y="0" font-size="10" fill="#000" stroke="#000" stroke-width="0.18" style="white-space:pre" >0.00</text>
<text transform="translate(1648,707) scale(0.93,0.96)" x="0" y="0" font-size="10" fill="#000" stroke="#000" stroke-width="0.18" style="white-space:pre" >-0.001021</text>
<text transform="translate(9,725) scale(0.93,0.96)" x="0" y="0" font-size="10" fill="#000" stroke="#000" stroke-width="0.18" style="white-space:pre" >RSI(14) 53.7735</text>
<g clip-path="url(#crsi)" shape-rendering="crispEdges">
<line x1="6" y1="735.5" x2="1644" y2="735.5" stroke="#000" stroke-width="1" stroke-dasharray="3,3"/>
<line x1="6" y1="768.5" x2="1644" y2="768.5" stroke="#000" stroke-width="1" stroke-dasharray="3,3"/>
<line x1="6" y1="806.5" x2="1644" y2="806.5" stroke="#000" stroke-width="1" stroke-dasharray="3,3"/>
</g>
<g clip-path="url(#crsi)"><polyline points="5,772 20,774 25,774 37,770 53,766 69,765 85,763 101,761 117,760 133,758 149,756 165,756 181,758 197,758 213,758 229,754 245,764 261,760 277,760 293,763 309,757 325,752 341,749 357,748 373,748 389,748 405,756 421,761 437,761 453,766 469,780 485,782 501,769 517,761 533,759 549,756 565,756 581,761 597,755 613,761 629,753 645,752 661,752 677,752 693,756 709,757 725,763 741,767 757,767 773,770 789,766 805,765 821,761 837,762 853,763 869,763 885,765 901,765 917,767 933,768 949,767 965,771 981,766 997,774 1013,786 1029,778 1045,777 1061,772 1077,768 1093,765 1109,765 1125,763 1141,762 1157,760 1173,760 1189,761 1205,746 1221,745 1237,745 1253,748 1269,746 1285,744 1301,738 1317,740 1333,739 1349,738 1365,739 1381,744 1397,768 1413,765" fill="none" stroke="#1e90ff" stroke-width="2" stroke-linejoin="round"/></g>
<g shape-rendering="crispEdges"><rect x="1645" y="714" width="2" height="1" fill="#000"/><rect x="1645" y="735" width="2" height="1" fill="#000"/><rect x="1645" y="768" width="2" height="1" fill="#000"/><rect x="1645" y="806" width="2" height="1" fill="#000"/><rect x="1645" y="822" width="2" height="1" fill="#000"/></g>
<text transform="translate(1648,723) scale(0.93,0.96)" x="0" y="0" font-size="10" fill="#000" stroke="#000" stroke-width="0.18" style="white-space:pre" >100</text>
<text transform="translate(1648,739) scale(0.93,0.96)" x="0" y="0" font-size="10" fill="#000" stroke="#000" stroke-width="0.18" style="white-space:pre" >80</text>
<text transform="translate(1648,772) scale(0.93,0.96)" x="0" y="0" font-size="10" fill="#000" stroke="#000" stroke-width="0.18" style="white-space:pre" >50</text>
<text transform="translate(1648,810) scale(0.93,0.96)" x="0" y="0" font-size="10" fill="#000" stroke="#000" stroke-width="0.18" style="white-space:pre" >15</text>
<text transform="translate(1648,821) scale(0.93,0.96)" x="0" y="0" font-size="10" fill="#000" stroke="#000" stroke-width="0.18" style="white-space:pre" >0</text>
<g shape-rendering="crispEdges">
<rect x="5" y="824" width="1" height="3" fill="#000"/>
<rect x="69" y="824" width="1" height="3" fill="#000"/>
<rect x="133" y="824" width="1" height="3" fill="#000"/>
<rect x="197" y="824" width="1" height="3" fill="#000"/>
<rect x="261" y="824" width="1" height="3" fill="#000"/>
<rect x="325" y="824" width="1" height="3" fill="#000"/>
<rect x="389" y="824" width="1" height="3" fill="#000"/>
<rect x="453" y="824" width="1" height="3" fill="#000"/>
<rect x="517" y="824" width="1" height="3" fill="#000"/>
<rect x="581" y="824" width="1" height="3" fill="#000"/>
<rect x="645" y="824" width="1" height="3" fill="#000"/>
<rect x="709" y="824" width="1" height="3" fill="#000"/>
<rect x="773" y="824" width="1" height="3" fill="#000"/>
<rect x="837" y="824" width="1" height="3" fill="#000"/>
<rect x="901" y="824" width="1" height="3" fill="#000"/>
<rect x="965" y="824" width="1" height="3" fill="#000"/>
<rect x="1029" y="824" width="1" height="3" fill="#000"/>
<rect x="1093" y="824" width="1" height="3" fill="#000"/>
<rect x="1157" y="824" width="1" height="3" fill="#000"/>
<rect x="1221" y="824" width="1" height="3" fill="#000"/>
<rect x="1285" y="824" width="1" height="3" fill="#000"/>
<rect x="1349" y="824" width="1" height="3" fill="#000"/>
<rect x="1413" y="824" width="1" height="3" fill="#000"/>
</g>
<text transform="translate(4,836) scale(0.93,0.96)" x="0" y="0" font-size="10" fill="#000" stroke="#000" stroke-width="0.18" style="white-space:pre" >27 Mar 2023</text>
<text transform="translate(68,836) scale(0.93,0.96)" x="0" y="0" font-size="10" fill="#000" stroke="#000" stroke-width="0.18" style="white-space:pre" >27 Mar 16:00</text>
<text transform="translate(132,836) scale(0.93,0.96)" x="0" y="0" font-size="10" fill="#000" stroke="#000" stroke-width="0.18" style="white-space:pre" >28 Mar 08:00</text>
<text transform="translate(196,836) scale(0.93,0.96)" x="0" y="0" font-size="10" fill="#000" stroke="#000" stroke-width="0.18" style="white-space:pre" >29 Mar 00:00</text>
<text transform="translate(260,836) scale(0.93,0.96)" x="0" y="0" font-size="10" fill="#000" stroke="#000" stroke-width="0.18" style="white-space:pre" >29 Mar 16:00</text>
<text transform="translate(324,836) scale(0.93,0.96)" x="0" y="0" font-size="10" fill="#000" stroke="#000" stroke-width="0.18" style="white-space:pre" >30 Mar 08:00</text>
<text transform="translate(388,836) scale(0.93,0.96)" x="0" y="0" font-size="10" fill="#000" stroke="#000" stroke-width="0.18" style="white-space:pre" >31 Mar 00:00</text>
<text transform="translate(452,836) scale(0.93,0.96)" x="0" y="0" font-size="10" fill="#000" stroke="#000" stroke-width="0.18" style="white-space:pre" >31 Mar 16:00</text>
<text transform="translate(516,836) scale(0.93,0.96)" x="0" y="0" font-size="10" fill="#000" stroke="#000" stroke-width="0.18" style="white-space:pre" >3 Apr 08:00</text>
<text transform="translate(580,836) scale(0.93,0.96)" x="0" y="0" font-size="10" fill="#000" stroke="#000" stroke-width="0.18" style="white-space:pre" >4 Apr 00:00</text>
<text transform="translate(644,836) scale(0.93,0.96)" x="0" y="0" font-size="10" fill="#000" stroke="#000" stroke-width="0.18" style="white-space:pre" >4 Apr 16:00</text>
<text transform="translate(708,836) scale(0.93,0.96)" x="0" y="0" font-size="10" fill="#000" stroke="#000" stroke-width="0.18" style="white-space:pre" >5 Apr 08:00</text>
<text transform="translate(772,836) scale(0.93,0.96)" x="0" y="0" font-size="10" fill="#000" stroke="#000" stroke-width="0.18" style="white-space:pre" >6 Apr 00:00</text>
<text transform="translate(836,836) scale(0.93,0.96)" x="0" y="0" font-size="10" fill="#000" stroke="#000" stroke-width="0.18" style="white-space:pre" >6 Apr 16:00</text>
<text transform="translate(900,836) scale(0.93,0.96)" x="0" y="0" font-size="10" fill="#000" stroke="#000" stroke-width="0.18" style="white-space:pre" >7 Apr 08:00</text>
<text transform="translate(964,836) scale(0.93,0.96)" x="0" y="0" font-size="10" fill="#000" stroke="#000" stroke-width="0.18" style="white-space:pre" >10 Apr 00:00</text>
<text transform="translate(1028,836) scale(0.93,0.96)" x="0" y="0" font-size="10" fill="#000" stroke="#000" stroke-width="0.18" style="white-space:pre" >10 Apr 16:00</text>
<text transform="translate(1092,836) scale(0.93,0.96)" x="0" y="0" font-size="10" fill="#000" stroke="#000" stroke-width="0.18" style="white-space:pre" >11 Apr 08:00</text>
<text transform="translate(1156,836) scale(0.93,0.96)" x="0" y="0" font-size="10" fill="#000" stroke="#000" stroke-width="0.18" style="white-space:pre" >12 Apr 00:00</text>
<text transform="translate(1220,836) scale(0.93,0.96)" x="0" y="0" font-size="10" fill="#000" stroke="#000" stroke-width="0.18" style="white-space:pre" >12 Apr 16:00</text>
<text transform="translate(1284,836) scale(0.93,0.96)" x="0" y="0" font-size="10" fill="#000" stroke="#000" stroke-width="0.18" style="white-space:pre" >13 Apr 08:00</text>
<text transform="translate(1348,836) scale(0.93,0.96)" x="0" y="0" font-size="10" fill="#000" stroke="#000" stroke-width="0.18" style="white-space:pre" >14 Apr 00:00</text>
<text transform="translate(1412,836) scale(0.93,0.96)" x="0" y="0" font-size="10" fill="#000" stroke="#000" stroke-width="0.18" style="white-space:pre" >14 Apr 16:00</text>
</svg></body></html>
